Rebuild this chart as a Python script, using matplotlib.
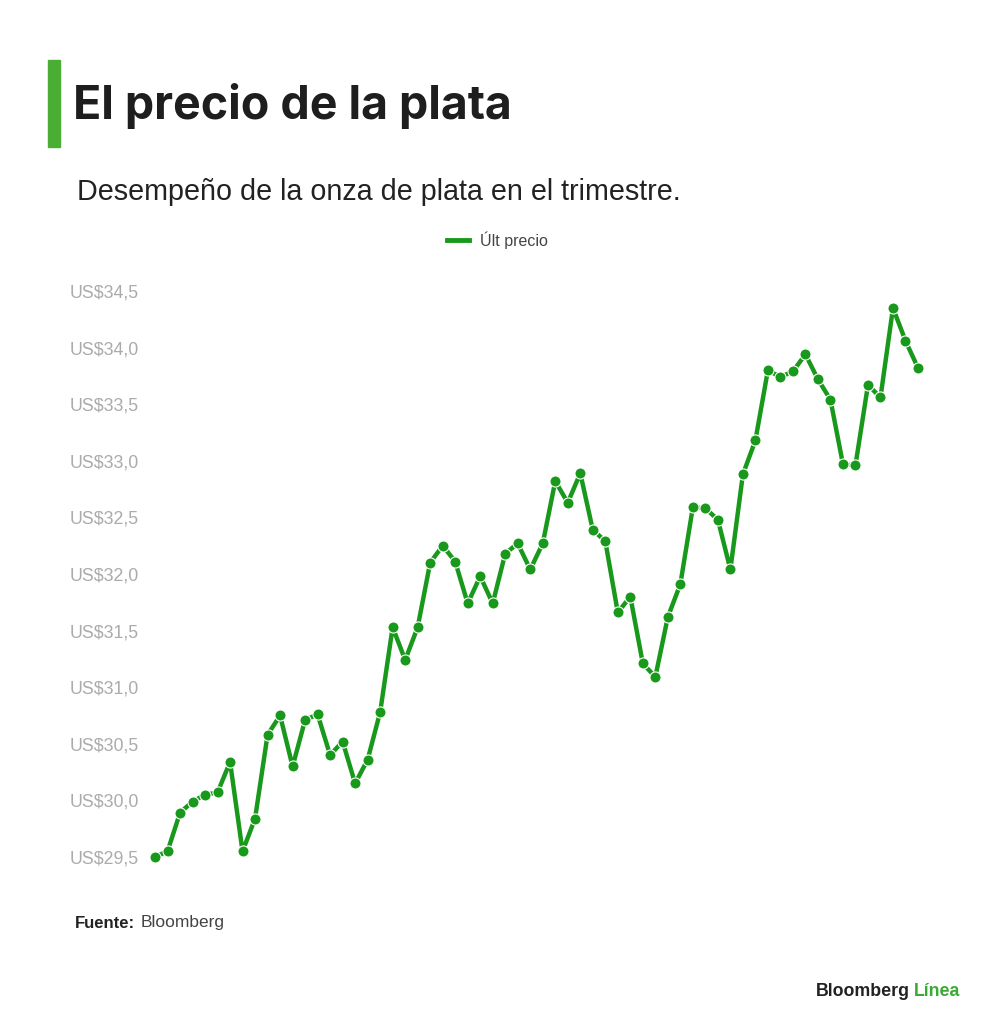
import matplotlib.pyplot as plt
from matplotlib.patches import Rectangle

# precio de cierre diario de la onza de plata (US$)
precio = [29.50, 29.55, 29.89, 29.99, 30.05, 30.07, 30.34, 29.55, 29.84, 30.58,
          30.75, 30.30, 30.71, 30.76, 30.40, 30.52, 30.15, 30.36, 30.78, 31.53,
          31.24, 31.53, 32.10, 32.25, 32.11, 31.74, 31.98, 31.74, 32.18, 32.27,
          32.04, 32.27, 32.82, 32.63, 32.89, 32.39, 32.29, 31.66, 31.80, 31.21,
          31.09, 31.62, 31.91, 32.59, 32.58, 32.48, 32.04, 32.88, 33.18, 33.80,
          33.74, 33.79, 33.94, 33.72, 33.54, 32.97, 32.96, 33.67, 33.56, 34.35,
          34.06, 33.82]
dias = list(range(len(precio)))
ticks_y = [29.5, 30.0, 30.5, 31.0, 31.5, 32.0, 32.5, 33.0, 33.5, 34.0, 34.5]
etiquetas_y = ['US$' + f'{v:.1f}'.replace('.', ',') for v in ticks_y]

verde = '#18991b'
W, H = 1000, 1034
fig = plt.figure(figsize=(W / 100, H / 100), dpi=100)
fig.patch.set_facecolor('white')

# ejes: x de 155 a 918 px, y de 857 (29.5) a 291 (34.5) px
ax = fig.add_axes([155 / W, 1 - 857 / H, (918 - 155) / W, (857 - 291) / H])
ax.plot(dias, precio, color=verde, lw=3.2, marker='o', ms=8,
        markerfacecolor=verde, markeredgecolor='white', markeredgewidth=0.8,
        clip_on=False, solid_joinstyle='round', solid_capstyle='round')
ax.set_xlim(0, len(precio) - 1)
ax.set_ylim(29.5, 34.5)
ax.set_yticks(ticks_y)
ax.set_yticklabels(etiquetas_y)
ax.set_xticks([])
for s in ax.spines.values():
    s.set_visible(False)
ax.tick_params(axis='y', length=0, pad=85 * 0.72, labelsize=12.8,
               labelcolor='#ababab')
for t in ax.get_yticklabels():
    t.set_ha('left')
    t.set_family('Liberation Sans')

# barra verde del titulo
fig.patches.append(Rectangle((48 / W, 1 - 147 / H), 12 / W, 87 / H,
                             transform=fig.transFigure, color='#4aad34'))

fig.text(73 / W, 1 - 106 / H, 'El precio de la plata', fontsize=33.5,
         fontweight='bold', family='Inter', color='#1e1e1e', va='center')
fig.text(77 / W, 1 - 192 / H, 'Desempeño de la onza de plata en el trimestre.',
         fontsize=20.7, family='Liberation Sans', color='#222222', va='center')

# leyenda
fig.lines.append(plt.Line2D([447 / W, 469 / W], [1 - 240 / H, 1 - 240 / H],
                            transform=fig.transFigure, color=verde, lw=3.5))
fig.text(480 / W, 1 - 240 / H, 'Últ precio', fontsize=11.5, family='Liberation Sans',
         color='#444444', va='center')

fig.text(75 / W, 1 - 923 / H, 'Fuente:', fontsize=12, fontweight='bold',
         family='Liberation Sans', color='#222222', va='center')
fig.text(141 / W, 1 - 923 / H, 'Bloomberg', fontsize=12.5,
         family='Liberation Sans', color='#444444', va='center')

fig.text(910 / W, 1 - 992 / H, 'Bloomberg', fontsize=12.8, fontweight='bold',
         family='Liberation Sans', color='#222222', va='center', ha='right')
fig.text(914 / W, 1 - 992 / H, 'Línea', fontsize=12.8, fontweight='bold',
         family='Liberation Sans', color='#3aaa35', va='center', ha='left')

fig.savefig('out.png', dpi=100, facecolor='white')
